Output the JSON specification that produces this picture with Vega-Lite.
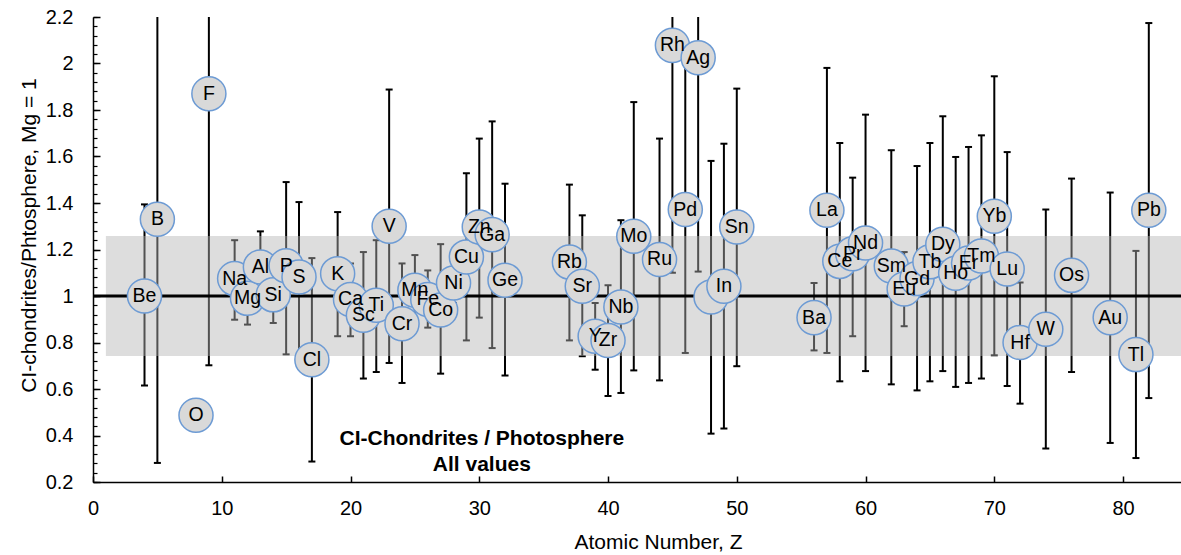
{
  "$schema": "https://vega.github.io/schema/vega-lite/v6.json",
  "width": 1088,
  "height": 465,
  "autosize": {"type": "none"},
  "padding": {"left": 93, "top": 17, "right": 0, "bottom": 73},
  "background": "white",
  "config": {
    "view": {"stroke": null},
    "axis": {"grid": false, "domainColor": "#000", "tickColor": "#000", "labelColor": "#000", "titleColor": "#000", "labelFont": "Liberation Sans", "titleFont": "Liberation Sans", "titleFontWeight": "normal", "labelFlush": false, "labelOverlap": false}
  },
  "datasets": {
    "elements": [
      {"Z": 4, "el": "Be", "v": 1.0, "lo": 0.615, "hi": 1.394},
      {"Z": 5, "el": "B", "v": 1.33, "lo": 0.282, "hi": 2.6},
      {"Z": 8, "el": "O", "v": 0.487, "lo": null, "hi": null},
      {"Z": 9, "el": "F", "v": 1.87, "lo": 0.702, "hi": 2.6},
      {"Z": 11, "el": "Na", "v": 1.075, "lo": 0.898, "hi": 1.24},
      {"Z": 12, "el": "Mg", "v": 0.99, "lo": 0.877, "hi": 1.1},
      {"Z": 13, "el": "Al", "v": 1.125, "lo": 0.98, "hi": 1.278},
      {"Z": 14, "el": "Si", "v": 1.005, "lo": 0.884, "hi": 1.12},
      {"Z": 15, "el": "P", "v": 1.13, "lo": 0.749, "hi": 1.49},
      {"Z": 16, "el": "S", "v": 1.082, "lo": 0.72, "hi": 1.404},
      {"Z": 17, "el": "Cl", "v": 0.726, "lo": 0.288, "hi": 1.163},
      {"Z": 19, "el": "K", "v": 1.096, "lo": 0.827, "hi": 1.361},
      {"Z": 20, "el": "Ca", "v": 0.985, "lo": 0.827, "hi": 1.14},
      {"Z": 21, "el": "Sc", "v": 0.917, "lo": 0.645, "hi": 1.189},
      {"Z": 22, "el": "Ti", "v": 0.96, "lo": 0.673, "hi": 1.24},
      {"Z": 23, "el": "V", "v": 1.3, "lo": 0.712, "hi": 1.888},
      {"Z": 24, "el": "Cr", "v": 0.881, "lo": 0.626, "hi": 1.14},
      {"Z": 25, "el": "Mn", "v": 1.025, "lo": 0.9, "hi": 1.176},
      {"Z": 26, "el": "Fe", "v": 0.985, "lo": 0.864, "hi": 1.11},
      {"Z": 27, "el": "Co", "v": 0.94, "lo": 0.666, "hi": 1.223},
      {"Z": 28, "el": "Ni", "v": 1.056, "lo": 0.97, "hi": 1.15},
      {"Z": 29, "el": "Cu", "v": 1.168, "lo": 0.809, "hi": 1.528},
      {"Z": 30, "el": "Zn", "v": 1.297, "lo": 0.907, "hi": 1.677},
      {"Z": 31, "el": "Ga", "v": 1.264, "lo": 0.776, "hi": 1.751},
      {"Z": 32, "el": "Ge", "v": 1.068, "lo": 0.658, "hi": 1.483},
      {"Z": 37, "el": "Rb", "v": 1.146, "lo": 0.809, "hi": 1.479},
      {"Z": 38, "el": "Sr", "v": 1.042, "lo": 0.741, "hi": 1.347},
      {"Z": 39, "el": "Y", "v": 0.827, "lo": 0.683, "hi": 0.97},
      {"Z": 40, "el": "Zr", "v": 0.809, "lo": 0.57, "hi": 1.046},
      {"Z": 41, "el": "Nb", "v": 0.953, "lo": 0.583, "hi": 1.326},
      {"Z": 42, "el": "Mo", "v": 1.257, "lo": 0.68, "hi": 1.834},
      {"Z": 44, "el": "Ru", "v": 1.157, "lo": 0.637, "hi": 1.677},
      {"Z": 45, "el": "Rh", "v": 2.078, "lo": 1.1, "hi": 2.6},
      {"Z": 46, "el": "Pd", "v": 1.372, "lo": 0.755, "hi": 2.05},
      {"Z": 47, "el": "Ag", "v": 2.025, "lo": 1.105, "hi": 2.6},
      {"Z": 48, "el": "Cd", "v": 0.996, "lo": 0.408, "hi": 1.581},
      {"Z": 49, "el": "In", "v": 1.042, "lo": 0.43, "hi": 1.655},
      {"Z": 50, "el": "Sn", "v": 1.297, "lo": 0.698, "hi": 1.892},
      {"Z": 56, "el": "Ba", "v": 0.907, "lo": 0.766, "hi": 1.056},
      {"Z": 57, "el": "La", "v": 1.369, "lo": 0.755, "hi": 1.981},
      {"Z": 58, "el": "Ce", "v": 1.149, "lo": 0.633, "hi": 1.658},
      {"Z": 59, "el": "Pr", "v": 1.182, "lo": 0.827, "hi": 1.509},
      {"Z": 60, "el": "Nd", "v": 1.228, "lo": 0.677, "hi": 1.78},
      {"Z": 62, "el": "Sm", "v": 1.129, "lo": 0.62, "hi": 1.627},
      {"Z": 63, "el": "Eu", "v": 1.03, "lo": 0.87, "hi": 1.189},
      {"Z": 64, "el": "Gd", "v": 1.075, "lo": 0.594, "hi": 1.559},
      {"Z": 65, "el": "Tb", "v": 1.147, "lo": 0.633, "hi": 1.658},
      {"Z": 66, "el": "Dy", "v": 1.222, "lo": 0.677, "hi": 1.773},
      {"Z": 67, "el": "Ho", "v": 1.098, "lo": 0.609, "hi": 1.598},
      {"Z": 68, "el": "Er", "v": 1.142, "lo": 0.626, "hi": 1.641},
      {"Z": 69, "el": "Tm", "v": 1.172, "lo": 0.645, "hi": 1.691},
      {"Z": 70, "el": "Yb", "v": 1.343, "lo": 0.745, "hi": 1.945},
      {"Z": 71, "el": "Lu", "v": 1.116, "lo": 0.613, "hi": 1.619},
      {"Z": 72, "el": "Hf", "v": 0.8, "lo": 0.537, "hi": 1.058},
      {"Z": 74, "el": "W", "v": 0.857, "lo": 0.344, "hi": 1.372},
      {"Z": 76, "el": "Os", "v": 1.089, "lo": 0.673, "hi": 1.505},
      {"Z": 79, "el": "Au", "v": 0.907, "lo": 0.368, "hi": 1.445},
      {"Z": 81, "el": "Tl", "v": 0.748, "lo": 0.303, "hi": 1.194},
      {"Z": 82, "el": "Pb", "v": 1.369, "lo": 0.561, "hi": 2.174}
    ],
    "notes": [
      {"t": "CI-Chondrites / Photosphere", "x": 30.2, "y": 0.358},
      {"t": "All values", "x": 30.2, "y": 0.247}
    ]
  },
  "data": {"name": "elements"},
  "resolve": {"axis": {"x": "independent", "y": "independent"}},
  "layer": [
    {
      "mark": {"type": "rule", "color": "#000", "strokeWidth": 2, "clip": true},
      "encoding": {
        "x": {"field": "Z", "type": "quantitative", "scale": {"domain": [0, 84.5], "nice": false, "zero": false},
          "axis": {"orient": "bottom", "values": [0, 10, 20, 30, 40, 50, 60, 70, 80], "tickSize": -6, "tickWidth": 1.5, "domainWidth": 1.5, "labelPadding": 22, "labelFontSize": 20, "title": "Atomic Number, Z", "titleFontSize": 21, "titleX": 565, "titleY": 66, "titleBaseline": "alphabetic", "titleAlign": "center"}},
        "y": {"field": "lo", "type": "quantitative", "scale": {"domain": [0.2, 2.2], "nice": false, "zero": false},
          "axis": {"orient": "left", "values": [0.2, 0.4, 0.6, 0.8, 1, 1.2, 1.4, 1.6, 1.8, 2, 2.2], "format": "~g", "tickSize": -7, "tickWidth": 1.5, "domainWidth": 1.5, "labelPadding": 27, "labelFontSize": 20, "title": "CI-chondrites/Phtosphere, Mg = 1", "titleFontSize": 21, "titleX": -58, "titleY": 218, "titleAngle": -90, "titleBaseline": "alphabetic", "titleAlign": "center"}},
        "y2": {"field": "hi"}
      }
    },
    {
      "mark": {"type": "tick", "orient": "horizontal", "color": "#000", "size": 7, "thickness": 2, "clip": true, "opacity": 1},
      "encoding": {
        "x": {"field": "Z", "type": "quantitative", "axis": null},
        "y": {"field": "lo", "type": "quantitative", "axis": null}
      }
    },
    {
      "mark": {"type": "tick", "orient": "horizontal", "color": "#000", "size": 7, "thickness": 2, "clip": true, "opacity": 1},
      "encoding": {
        "x": {"field": "Z", "type": "quantitative", "axis": null},
        "y": {"field": "hi", "type": "quantitative", "axis": null}
      }
    },
    {
      "data": {"values": [{}]},
      "mark": {"type": "rect", "color": "#b4b4b4", "opacity": 0.45},
      "encoding": {
        "x": {"datum": 1, "type": "quantitative", "axis": null},
        "x2": {"datum": 84.5},
        "y": {"datum": 0.742, "type": "quantitative",
          "axis": {"orient": "left", "values": [0.2, 0.24, 0.28, 0.32, 0.36, 0.4, 0.44, 0.48, 0.52, 0.56, 0.6, 0.64, 0.68, 0.72, 0.76, 0.8, 0.84, 0.88, 0.92, 0.96, 1, 1.04, 1.08, 1.12, 1.16, 1.2, 1.24, 1.28, 1.32, 1.36, 1.4, 1.44, 1.48, 1.52, 1.56, 1.6, 1.64, 1.68, 1.72, 1.76, 1.8, 1.84, 1.88, 1.92, 1.96, 2, 2.04, 2.08, 2.12, 2.16, 2.2], "labels": false, "domain": false, "tickSize": -4, "tickWidth": 1.2, "title": null}},
        "y2": {"datum": 1.258}
      }
    },
    {
      "data": {"values": [{}]},
      "mark": {"type": "rule", "color": "#000", "strokeWidth": 3},
      "encoding": {"y": {"datum": 1, "type": "quantitative", "axis": null}}
    },
    {
      "mark": {"type": "point", "shape": "circle", "filled": true, "fill": "#d9d9d9", "stroke": "#6d9bd4", "strokeWidth": 1.5, "size": 1160, "opacity": 1, "fillOpacity": 1, "strokeOpacity": 1},
      "encoding": {
        "x": {"field": "Z", "type": "quantitative", "axis": null},
        "y": {"field": "v", "type": "quantitative", "axis": null}
      }
    },
    {
      "transform": [{"filter": "datum.el != 'Cd'"}],
      "mark": {"type": "text", "font": "Liberation Sans", "fontSize": 19.5, "color": "#000", "align": "center", "baseline": "middle"},
      "encoding": {
        "x": {"field": "Z", "type": "quantitative", "axis": null},
        "y": {"field": "v", "type": "quantitative", "axis": null},
        "text": {"field": "el"}
      }
    },
    {
      "data": {"name": "notes"},
      "mark": {"type": "text", "font": "Liberation Sans", "fontSize": 21, "fontWeight": "bold", "color": "#000", "align": "center", "baseline": "alphabetic"},
      "encoding": {
        "x": {"field": "x", "type": "quantitative", "axis": null},
        "y": {"field": "y", "type": "quantitative", "axis": null},
        "text": {"field": "t"}
      }
    }
  ]
}
